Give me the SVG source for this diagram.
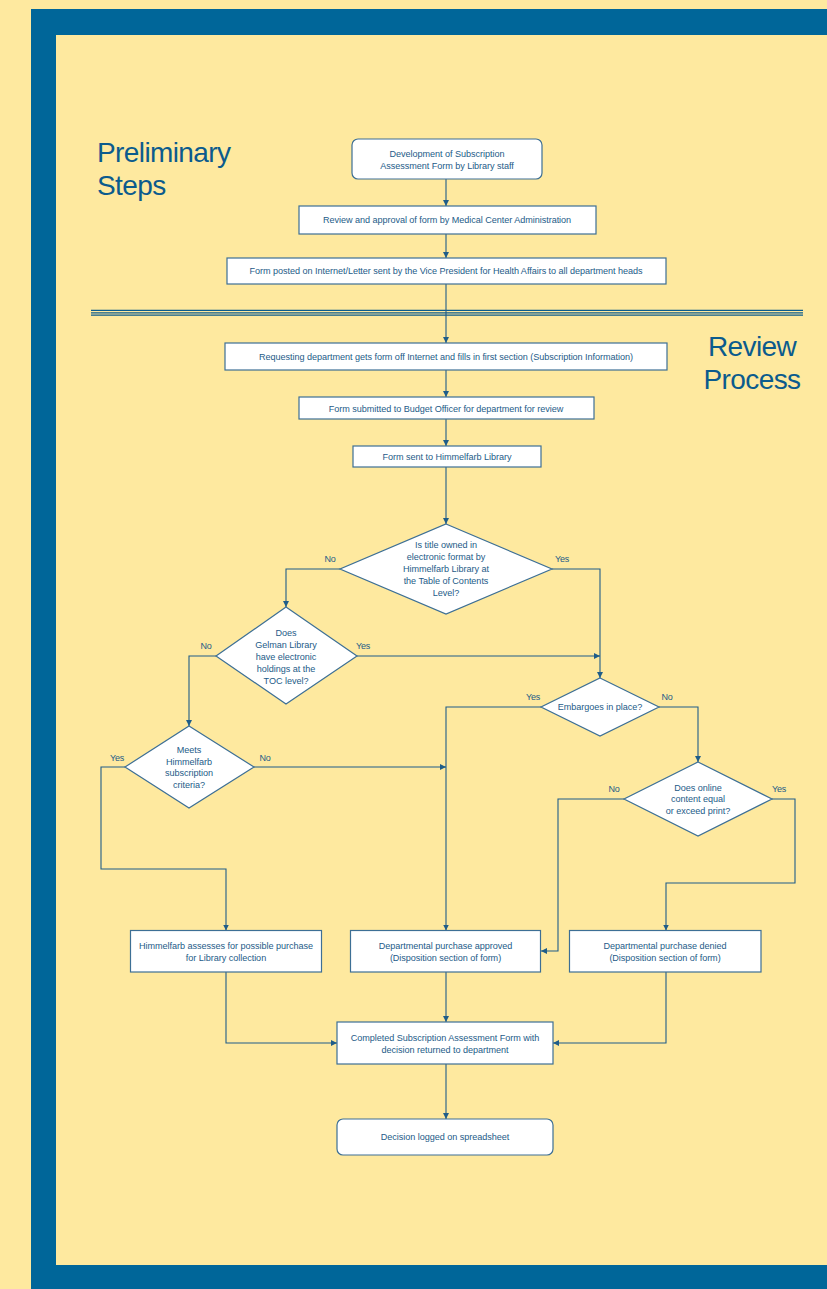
<svg xmlns="http://www.w3.org/2000/svg" width="827" height="1289" viewBox="0 0 827 1289">
<defs>
<style>
.bx{fill:#ffffff;stroke:#3d6f95;stroke-width:1.2}
.t{font-family:"Liberation Sans",Arial,sans-serif;font-size:9.1px;fill:#1d5b88;text-anchor:middle;letter-spacing:-0.05px}
.lb{font-family:"Liberation Sans",Arial,sans-serif;font-size:9px;fill:#1d5b88;text-anchor:middle;letter-spacing:-0.2px}
.ttl{font-family:"Liberation Sans",Arial,sans-serif;font-size:28px;fill:#0b5b8d;letter-spacing:-0.6px}
.c{fill:none;stroke:#1f5d89;stroke-width:1.1}
.ca{fill:none;stroke:#1f5d89;stroke-width:1.1;marker-end:url(#ah)}
</style>
<marker id="ah" markerUnits="userSpaceOnUse" markerWidth="8" markerHeight="8" refX="6" refY="3" orient="auto">
<path d="M0,0 L6,3 L0,6 Z" fill="#1f5d89"/>
</marker>
</defs>
<rect x="0" y="0" width="827" height="1289" fill="#fee99f"/>
<rect x="31" y="9" width="796" height="1280" fill="#006699"/>
<rect x="56" y="35" width="771" height="1230" fill="#fee99f"/>
<g id="titles">
<text class="ttl" x="97" y="162">Preliminary</text>
<text class="ttl" x="97" y="195">Steps</text>
<text class="ttl" x="752" y="356" text-anchor="middle">Review</text>
<text class="ttl" x="752" y="389" text-anchor="middle">Process</text>
</g>
<g id="separator" stroke="#0b5b8d" stroke-width="1.2">
<line x1="91" y1="310.4" x2="803" y2="310.4"/>
<line x1="91" y1="312.8" x2="803" y2="312.8"/>
<line x1="91" y1="315.1" x2="803" y2="315.1"/>
</g>
<g id="connectors">
<path class="ca" d="M446,179 V206"/>
<path class="ca" d="M446,234 V258"/>
<path class="ca" d="M446,284 V343"/>
<path class="ca" d="M446,370 V397"/>
<path class="ca" d="M446,419 V446"/>
<path class="ca" d="M446,467 V524"/>
<path class="ca" d="M340,569 H286 V607"/>
<path class="ca" d="M552,569 H600 V678"/>
<path class="ca" d="M357,656 H600"/>
<path class="ca" d="M216,656 H189 V726"/>
<path class="ca" d="M254,767 H446"/>
<path class="ca" d="M125,767 H101 V869 H226 V930.5"/>
<path class="ca" d="M541,707 H446 V930.5"/>
<path class="ca" d="M659,707 H698 V762"/>
<path class="ca" d="M624,799 H558 V951 H541"/>
<path class="ca" d="M772,799 H795 V883 H666 V930.5"/>
<path class="ca" d="M226,972 V1043 H337"/>
<path class="ca" d="M446,972 V1022"/>
<path class="ca" d="M666,972 V1043 H553"/>
<path class="ca" d="M446,1064 V1119"/>
</g>
<g id="labels">
<text class="lb" x="330" y="562">No</text>
<text class="lb" x="562" y="562">Yes</text>
<text class="lb" x="363" y="649">Yes</text>
<text class="lb" x="206" y="649">No</text>
<text class="lb" x="533" y="700">Yes</text>
<text class="lb" x="667" y="700">No</text>
<text class="lb" x="614" y="792">No</text>
<text class="lb" x="779" y="792">Yes</text>
<text class="lb" x="117" y="761">Yes</text>
<text class="lb" x="265" y="761">No</text>
</g>
<g id="n1">
<rect class="bx" x="352" y="139" width="190" height="40" rx="6"/>
<text class="t" x="447" y="157">Development of Subscription</text>
<text class="t" x="447" y="168.5">Assessment Form by Library staff</text>
</g>
<g id="n2">
<rect class="bx" x="299" y="206" width="297" height="28"/>
<text class="t" x="447" y="223">Review and approval of form by Medical Center Administration</text>
</g>
<g id="n3">
<rect class="bx" x="227" y="258" width="439" height="26"/>
<text class="t" x="446" y="274">Form posted on Internet/Letter sent by the Vice President for Health Affairs to all department heads</text>
</g>
<g id="n4">
<rect class="bx" x="225" y="343" width="442" height="27"/>
<text class="t" x="446" y="359.5">Requesting department gets form off Internet and fills in first section (Subscription Information)</text>
</g>
<g id="n5">
<rect class="bx" x="299" y="397" width="295" height="22"/>
<text class="t" x="446" y="411.8">Form submitted to Budget Officer for department for review</text>
</g>
<g id="n6">
<rect class="bx" x="353" y="446" width="188" height="21"/>
<text class="t" x="447" y="459.5">Form sent to Himmelfarb Library</text>
</g>
<g id="d1">
<polygon class="bx" points="446,524 552,569 446,614 340,569"/>
<text class="t" x="446" y="548">Is title owned in</text>
<text class="t" x="446" y="560">electronic format by</text>
<text class="t" x="446" y="572">Himmelfarb Library at</text>
<text class="t" x="446" y="584">the Table of Contents</text>
<text class="t" x="446" y="596">Level?</text>
</g>
<g id="d2">
<polygon class="bx" points="286,607 357,656 286,704 216,656"/>
<text class="t" x="286" y="636">Does</text>
<text class="t" x="286" y="648">Gelman Library</text>
<text class="t" x="286" y="660">have electronic</text>
<text class="t" x="286" y="672">holdings at the</text>
<text class="t" x="286" y="684">TOC level?</text>
</g>
<g id="d3">
<polygon class="bx" points="600,678 659,707 600,736 541,707"/>
<text class="t" x="600" y="710">Embargoes in place?</text>
</g>
<g id="d4">
<polygon class="bx" points="698,762 772,799 698,836 624,799"/>
<text class="t" x="698" y="790.5">Does online</text>
<text class="t" x="698" y="802">content equal</text>
<text class="t" x="698" y="813.5">or exceed print?</text>
</g>
<g id="d5">
<polygon class="bx" points="189,726 254,767 189,808 125,767"/>
<text class="t" x="189" y="752.5">Meets</text>
<text class="t" x="189" y="764.5">Himmelfarb</text>
<text class="t" x="189" y="776">subscription</text>
<text class="t" x="189" y="787.5">criteria?</text>
</g>
<g id="b1">
<rect class="bx" x="130.5" y="930.5" width="191" height="41.5"/>
<text class="t" x="226" y="949">Himmelfarb assesses for possible purchase</text>
<text class="t" x="226" y="960.7">for Library collection</text>
</g>
<g id="b2">
<rect class="bx" x="350.5" y="930.5" width="190" height="41.5"/>
<text class="t" x="445.5" y="949">Departmental purchase approved</text>
<text class="t" x="445.5" y="960.7">(Disposition section of form)</text>
</g>
<g id="b3">
<rect class="bx" x="569.5" y="930.5" width="191.5" height="41.5"/>
<text class="t" x="665" y="949">Departmental purchase denied</text>
<text class="t" x="665" y="960.7">(Disposition section of form)</text>
</g>
<g id="b4">
<rect class="bx" x="337" y="1022" width="216" height="42"/>
<text class="t" x="445" y="1041">Completed Subscription Assessment Form with</text>
<text class="t" x="445" y="1053">decision returned to department</text>
</g>
<g id="b5">
<rect class="bx" x="337" y="1119" width="216" height="36" rx="6"/>
<text class="t" x="445" y="1140">Decision logged on spreadsheet</text>
</g>
</svg>
